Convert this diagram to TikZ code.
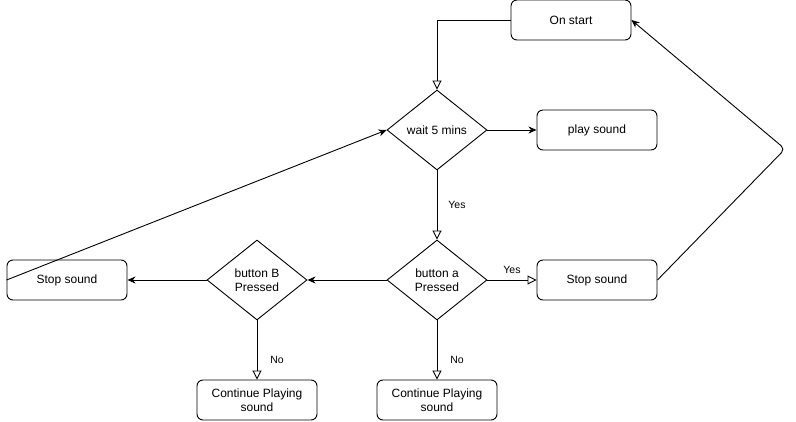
\documentclass[tikz,border=0pt]{standalone}
\usepackage{fontspec}
\setmainfont{Liberation Sans}
\usetikzlibrary{shapes.geometric,arrows.meta}
\begin{document}
\begin{tikzpicture}[x=1pt,y=-1pt,
  box/.style={draw, rounded corners=6pt, minimum width=120pt, minimum height=40pt, inner sep=0pt, align=center, font=\fontsize{12}{14}\selectfont, line width=0.9pt},
  dec/.style={draw, diamond, minimum width=100pt, minimum height=80pt, inner sep=0pt, align=center, font=\fontsize{12}{14}\selectfont, line width=0.9pt},
  lbl/.style={font=\fontsize{10.5}{12}\selectfont, inner sep=1pt},
  conn/.style={line width=0.9pt},
  filled/.style={conn, -{Stealth[length=8pt,width=7pt,inset=2.5pt]}},
  hollow/.style={conn, -{Triangle[open,length=9pt,width=9pt,fill=white]}}
]
\useasboundingbox (0,0) rectangle (796,421);
\node[box] (start) at (571,20) {On start};
\node[dec] (wait) at (437,130) {wait 5 mins};
\node[box] (play) at (597,130) {play sound};
\node[dec] (ba) at (437,280) {button a\\Pressed};
\node[box] (stopR) at (597,280) {Stop sound};
\node[dec] (bb) at (257,280) {button B\\Pressed};
\node[box] (stopL) at (67,280) {Stop sound};
\node[box] (contB) at (257,400) {Continue Playing\\sound};
\node[box] (contA) at (437,400) {Continue Playing\\sound};
\coordinate (corner) at (785,149);

\draw[hollow] (start.west) -| (wait.north);
\draw[filled] (wait.east) -- (play.west);
\draw[hollow] (wait.south) -- (ba.north);
\draw[hollow] (ba.east) -- (stopR.west);
\draw[filled] (ba.west) -- (bb.east);
\draw[filled] (bb.west) -- (stopL.east);
\draw[hollow] (bb.south) -- (contB.north);
\draw[hollow] (ba.south) -- (contA.north);
\draw[filled] (stopL.west) -- (wait.west);
\draw[filled, rounded corners=5pt] (stopR.east) -- (corner) -- (start.east);

\node[lbl] (yes1) at (457,205) {Yes};
\node[lbl] (yes2) at (512,270) {Yes};
\node[lbl] (no1) at (277,360) {No};
\node[lbl] (no2) at (457,360) {No};
\end{tikzpicture}
\end{document}
